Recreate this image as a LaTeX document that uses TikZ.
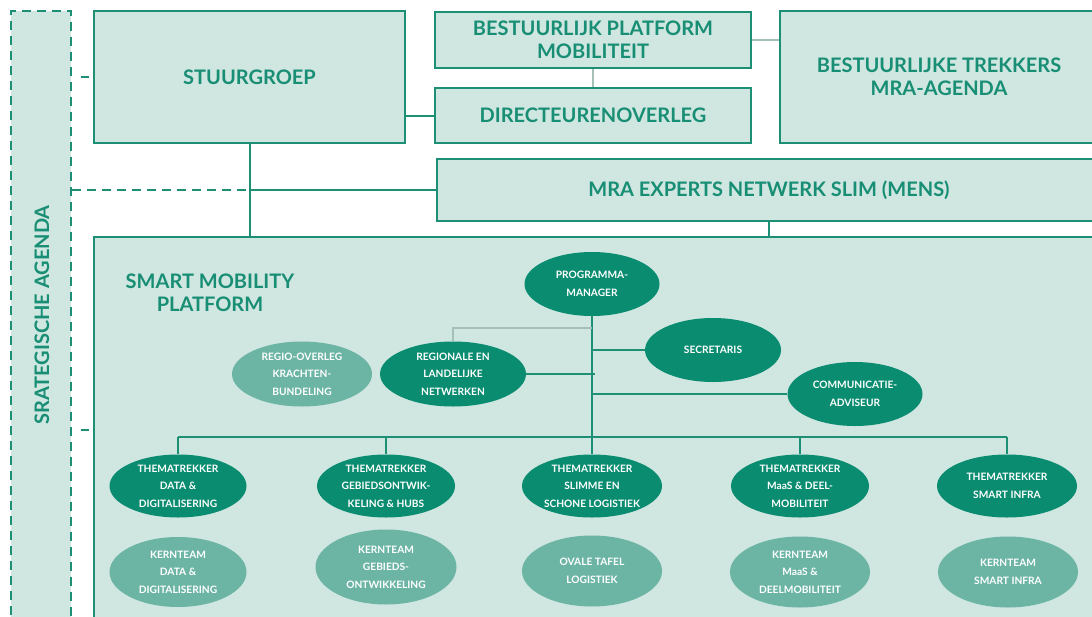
\documentclass[tikz,border=0pt]{standalone}
\usepackage{fontspec}
\setmainfont{Lato}
\usetikzlibrary{shapes.geometric}
\definecolor{mline}{RGB}{28,143,117}
\definecolor{mfill}{RGB}{207,230,225}
\definecolor{mdark}{RGB}{10,140,112}
\definecolor{mlight}{RGB}{108,181,165}
\definecolor{mtext}{RGB}{24,142,116}
\definecolor{mgrey}{RGB}{165,192,184}
\begin{document}
\begin{tikzpicture}[x=1pt,y=-1pt,
  box/.style={draw=mline,line width=2pt,fill=mfill,text=mtext,
    font=\fontsize{20}{23.5}\selectfont\bfseries,align=center,inner sep=0pt},
  dk/.style={ellipse,fill=mdark,text=white,
    font=\fontsize{10.2}{17.5}\selectfont\bfseries,align=center,inner sep=0pt},
  lt/.style={dk,fill=mlight},
  conn/.style={draw=mline,line width=2pt},
  dconn/.style={draw=mline,line width=2pt,dash pattern=on 9pt off 6pt},
  thinconn/.style={draw=mgrey,line width=1.6pt},
  title/.style={text=mtext,font=\fontsize{20}{22.5}\selectfont\bfseries,align=center,inner sep=0pt},
]
\useasboundingbox (0,0) rectangle (1092,616);
\clip (0,0) rectangle (1092,616);
\fill[white] (0,0) rectangle (1092,616);

% strategic agenda column
\node[fill=mfill,draw=mline,line width=2pt,dash pattern=on 9pt off 6pt,
      minimum width=60,minimum height=620,inner sep=0pt] (sa) at (41,321) {};
\node[title,rotate=90] (satext) at (42,315) {SRATEGISCHE AGENDA};

% top boxes
\node[box,minimum width=311,minimum height=132] (sg) at (249.5,77) {STUURGROEP};
\node[box,minimum width=316,minimum height=56] (bpm) at (593,40) {BESTUURLIJK PLATFORM\\MOBILITEIT};
\node[box,minimum width=316,minimum height=55] (dir) at (593,115.5) {DIRECTEURENOVERLEG};
\node[box,minimum width=318,minimum height=132] (bt) at (939,77) {BESTUURLIJKE TREKKERS\\MRA-AGENDA};
\node[box,minimum width=664,minimum height=62] (mens) at (769,190) {MRA EXPERTS NETWERK SLIM (MENS)};

% smart mobility platform
\node[box,minimum width=1010,minimum height=400] (smp) at (599,437) {};
\node[title,align=center] (smptitle) at (210,293) {SMART MOBILITY\\PLATFORM};

% ellipses
\node[dk,minimum width=135,minimum height=64] (pm) at (592,284) {PROGRAMMA-\\MANAGER};
\node[dk,minimum width=136,minimum height=64] (sec) at (713,350) {SECRETARIS};
\node[dk,minimum width=135,minimum height=64] (com) at (855,394) {COMMUNICATIE-\\ADVISEUR};
\node[dk,minimum width=146,minimum height=65] (reg) at (453,374) {REGIONALE EN\\LANDELIJKE\\NETWERKEN};
\node[lt,minimum width=140,minimum height=65] (ro) at (302,374) {REGIO-OVERLEG\\KRACHTEN-\\BUNDELING};

\node[dk,minimum width=137,minimum height=63] (t1) at (178,486) {THEMATREKKER\\DATA \&\\DIGITALISERING};
\node[dk,minimum width=138,minimum height=63] (t2) at (386,486) {THEMATREKKER\\GEBIEDSONTWIK-\\KELING \& HUBS};
\node[dk,minimum width=140,minimum height=63] (t3) at (592,486) {THEMATREKKER\\SLIMME EN\\SCHONE LOGISTIEK};
\node[dk,minimum width=138,minimum height=63] (t4) at (800,486) {THEMATREKKER\\MaaS \& DEEL-\\MOBILITEIT};
\node[dk,minimum width=140,minimum height=63] (t5) at (1007,486) {THEMATREKKER\\SMART INFRA};

\node[lt,minimum width=137,minimum height=70] (k1) at (178,572) {KERNTEAM\\DATA \&\\DIGITALISERING};
\node[lt,minimum width=141,minimum height=75] (k2) at (386,567) {KERNTEAM\\GEBIEDS-\\ONTWIKKELING};
\node[lt,minimum width=140,minimum height=71] (k3) at (592,571) {OVALE TAFEL\\LOGISTIEK};
\node[lt,minimum width=140,minimum height=71] (k4) at (800,572) {KERNTEAM\\MaaS \&\\DEELMOBILITEIT};
\node[lt,minimum width=140,minimum height=71] (k5) at (1008,572) {KERNTEAM\\SMART INFRA};

% top connectors
\coordinate (j1) at (249,190);
\draw[conn] (sg.south) -- (sg.south |- smp.north);
\draw[conn] (sg.east |- dir.west) -- (dir.west);
\draw[thinconn] (bpm.south) -- (dir.north);
\draw[thinconn] (bpm.east) -- (bpm.east -| bt.west);
\draw[conn] (mens.south) -- (mens.south |- smp.north);
\draw[dconn] (sa.east |- j1) -- (j1);
\draw[conn] (j1) -- (mens.west |- j1);
\draw[conn,dash pattern=on 0pt off 9pt on 8pt off 30pt] (sa.east |- sg.west) -- (sg.west);
\coordinate (j2) at (94,430);
\draw[conn,dash pattern=on 0pt off 9pt on 8pt off 30pt] (sa.east |- j2) -- (j2);

% platform connectors
\coordinate (bar) at (592,437);
\coordinate (g) at (592,328);
\draw[conn] (pm.south) -- (t3.north);
\draw[thinconn] (g) -| (reg.north);
\draw[conn] (pm.south |- sec.west) -- (sec.west);
\draw[conn] (reg.east) -- ([xshift=3pt]pm.south |- reg.east);
\draw[conn] (pm.south |- com.west) -- (com.west);
\draw[conn] (t1.north |- bar) -- (t5.north |- bar);
\foreach \t in {t1,t2,t4,t5} \draw[conn] (\t.north |- bar) -- (\t.north);
\end{tikzpicture}
\end{document}
